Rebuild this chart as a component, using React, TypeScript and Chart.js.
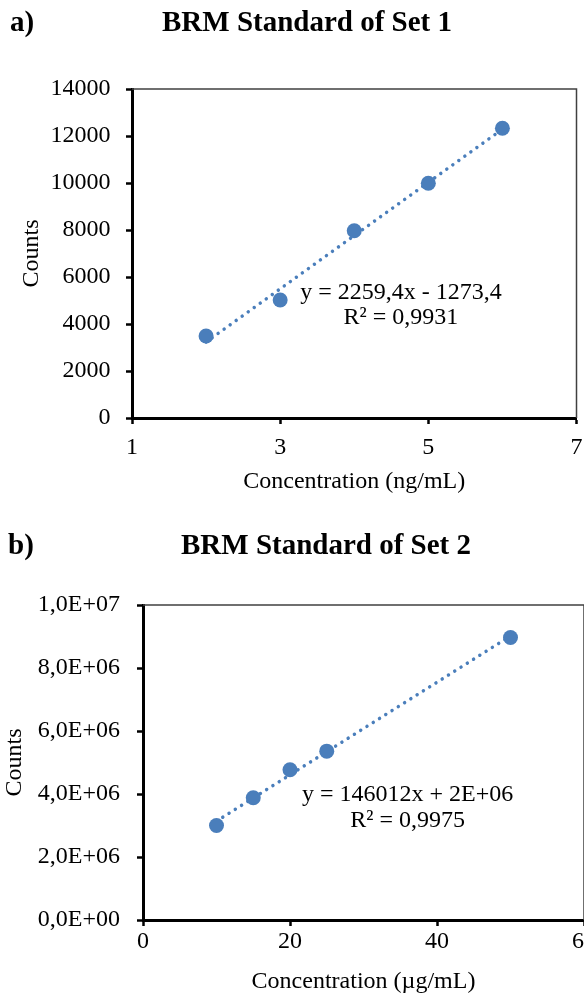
import React, { useEffect, useRef } from "react";
import { Chart, registerables } from "chart.js";

Chart.register(...registerables);

const FONT = '"Liberation Serif", "Times New Roman", Times, serif';
const BLUE = "#4A7EBB";

// ---- Data: chart a) BRM Standard of Set 1 ----
const concA = [2, 3, 4, 5, 6];
const countsA = [3490, 5020, 7970, 9990, 12330];
const xTicksA = [1, 3, 5, 7];
const yTicksA = [0, 2000, 4000, 6000, 8000, 10000, 12000, 14000];
const equationA = ["y = 2259,4x - 1273,4", "R² = 0,9931"];

// ---- Data: chart b) BRM Standard of Set 2 ----
const concB = [10, 15, 20, 25, 50];
const countsB = [3.0e6, 3.88e6, 4.77e6, 5.36e6, 8.97e6];
const xTicksB = [0, 20, 40, 60];
const yTicksB = [0, 2e6, 4e6, 6e6, 8e6, 1e7];
const equationB = ["y = 146012x + 2E+06", "R² = 0,9975"];

function fitLine(xs: number[], ys: number[]) {
  const n = xs.length;
  const mx = xs.reduce((a, b) => a + b, 0) / n;
  const my = ys.reduce((a, b) => a + b, 0) / n;
  let sxy = 0;
  let sxx = 0;
  for (let i = 0; i < n; i++) {
    sxy += (xs[i] - mx) * (ys[i] - my);
    sxx += (xs[i] - mx) * (xs[i] - mx);
  }
  const m = sxy / sxx;
  return { m, b: my - m * mx };
}

function fmtExcelSci(v: number) {
  if (v === 0) return "0,0E+00";
  const e = Math.floor(Math.log10(Math.abs(v)) + 1e-9);
  const m = v / Math.pow(10, e);
  return m.toFixed(1).replace(".", ",") + "E+" + String(e).padStart(2, "0");
}

type Spec = {
  tag: string;
  title: string;
  tagX: number;
  titleX: number;
  titleY: number;
  xs: number[];
  ys: number[];
  xTicks: number[];
  yTicks: number[];
  xLabel: string;
  yLabel: string;
  eq: string[];
  eqAt: { x: number; y: number };
  eqGap: number;
  yFmt: (v: number) => string;
  width: number;
  height: number;
  padTop: number;
  padRight: number;
  yAxisWidth: number;
  xAxisHeight: number;
  xTickPad: number;
  xTitlePadBottom: number;
  yTickPad: number;
  yTitlePadTop: number;
};

const specA: Spec = {
  tag: "a)",
  title: "BRM Standard of Set 1",
  tagX: 10,
  titleX: 307,
  titleY: 24,
  xs: concA,
  ys: countsA,
  xTicks: xTicksA,
  yTicks: yTicksA,
  xLabel: "Concentration (ng/mL)",
  yLabel: "Counts",
  eq: equationA,
  eqAt: { x: 4.63, y: 5320 },
  eqGap: 25,
  yFmt: (v) => String(v),
  width: 584,
  height: 500,
  padTop: 89,
  padRight: 7,
  yAxisWidth: 132,
  xAxisHeight: 82,
  xTickPad: 9.6,
  xTitlePadBottom: 3.6,
  yTickPad: 15.5,
  yTitlePadTop: 17.6,
};

const specB: Spec = {
  tag: "b)",
  title: "BRM Standard of Set 2",
  tagX: 8,
  titleX: 326,
  titleY: 47,
  xs: concB,
  ys: countsB,
  xTicks: xTicksB,
  yTicks: yTicksB,
  xLabel: "Concentration (µg/mL)",
  yLabel: "Counts",
  eq: equationB,
  eqAt: { x: 36, y: 3.97e6 },
  eqGap: 26,
  yFmt: fmtExcelSci,
  width: 600,
  height: 496,
  padTop: 105,
  padRight: 16,
  yAxisWidth: 143,
  xAxisHeight: 76,
  xTickPad: 1.6,
  xTitlePadBottom: 0,
  yTickPad: 17,
  yTitlePadTop: 0.6,
};

function makeDecor(spec: Spec) {
  return {
    id: "decor" + spec.tag,
    beforeDatasetsDraw(chart: any) {
      const { ctx, chartArea } = chart;
      const { top, right, bottom, left } = chartArea;
      ctx.save();
      ctx.strokeStyle = "#404040";
      ctx.lineWidth = 1.5;
      ctx.beginPath();
      ctx.moveTo(left, top);
      ctx.lineTo(right, top);
      ctx.lineTo(right, bottom);
      ctx.stroke();
      ctx.restore();
    },
    afterDraw(chart: any) {
      const { ctx, scales } = chart;
      ctx.save();
      ctx.fillStyle = "#000";
      ctx.textBaseline = "middle";
      ctx.font = `bold 29px ${FONT}`;
      ctx.textAlign = "left";
      ctx.fillText(spec.tag, spec.tagX, spec.titleY);
      ctx.textAlign = "center";
      ctx.fillText(spec.title, spec.titleX, spec.titleY);
      ctx.font = `24px ${FONT}`;
      const px = scales.x.getPixelForValue(spec.eqAt.x);
      const py = scales.y.getPixelForValue(spec.eqAt.y);
      spec.eq.forEach((line, i) => {
        ctx.fillText(line, px, py + i * spec.eqGap);
      });
      ctx.restore();
    },
  };
}

function buildConfig(spec: Spec): any {
  const { m, b } = fitLine(spec.xs, spec.ys);
  const x0 = spec.xs[0];
  const x1 = spec.xs[spec.xs.length - 1];
  const pts = spec.xs.map((x, i) => ({ x, y: spec.ys[i] }));
  const trend = [
    { x: x0, y: m * x0 + b },
    { x: x1, y: m * x1 + b },
  ];
  const tickFont = { family: FONT, size: 24 };
  return {
    type: "scatter",
    data: {
      datasets: [
        {
          data: pts,
          pointRadius: 7.5,
          pointHoverRadius: 7.5,
          pointBackgroundColor: BLUE,
          pointBorderWidth: 0,
          borderColor: BLUE,
          showLine: false,
        },
        {
          data: trend,
          showLine: true,
          pointRadius: 0,
          borderColor: BLUE,
          borderWidth: 3.5,
          borderDash: [0.01, 7.4],
          borderCapStyle: "round",
          fill: false,
        },
      ],
    },
    options: {
      responsive: false,
      maintainAspectRatio: false,
      animation: false,
      events: [],
      layout: {
        padding: { top: spec.padTop, right: spec.padRight, left: 0, bottom: 0 },
      },
      plugins: {
        legend: { display: false },
        tooltip: { enabled: false },
        title: { display: false },
      },
      scales: {
        x: {
          type: "linear",
          min: spec.xTicks[0],
          max: spec.xTicks[spec.xTicks.length - 1],
          afterBuildTicks: (s: any) => {
            s.ticks = spec.xTicks.map((v) => ({ value: v }));
          },
          afterFit: (s: any) => {
            s.height = spec.xAxisHeight;
            s.paddingLeft = 0;
            s.paddingRight = 0;
          },
          grid: {
            drawOnChartArea: false,
            drawTicks: true,
            tickLength: 6,
            tickWidth: 2.5,
            tickColor: "#000",
          },
          border: { display: true, color: "#000", width: 3 },
          ticks: {
            color: "#000",
            font: tickFont,
            padding: spec.xTickPad,
            maxRotation: 0,
            autoSkip: false,
            callback: (v: any) => String(v),
          },
          title: {
            display: true,
            text: spec.xLabel,
            color: "#000",
            font: tickFont,
            padding: { top: 0, bottom: spec.xTitlePadBottom },
          },
        },
        y: {
          type: "linear",
          min: spec.yTicks[0],
          max: spec.yTicks[spec.yTicks.length - 1],
          afterBuildTicks: (s: any) => {
            s.ticks = spec.yTicks.map((v) => ({ value: v }));
          },
          afterFit: (s: any) => {
            s.width = spec.yAxisWidth;
          },
          grid: {
            drawOnChartArea: false,
            drawTicks: true,
            tickLength: 6,
            tickWidth: 2.5,
            tickColor: "#000",
          },
          border: { display: true, color: "#000", width: 3 },
          ticks: {
            color: "#000",
            font: tickFont,
            padding: spec.yTickPad,
            autoSkip: false,
            callback: (v: any) => spec.yFmt(Number(v)),
          },
          title: {
            display: true,
            text: spec.yLabel,
            color: "#000",
            font: tickFont,
            padding: { top: spec.yTitlePadTop, bottom: 0 },
          },
        },
      },
    },
    plugins: [makeDecor(spec)],
  };
}

function ChartCanvas({ spec, top }: { spec: Spec; top: number }) {
  const ref = useRef<HTMLCanvasElement | null>(null);
  useEffect(() => {
    if (!ref.current) return;
    const chart = new Chart(ref.current, buildConfig(spec));
    return () => chart.destroy();
  }, [spec]);
  return (
    <canvas
      ref={ref}
      width={spec.width}
      height={spec.height}
      style={{
        position: "absolute",
        left: 0,
        top,
        width: spec.width,
        height: spec.height,
        display: "block",
      }}
    />
  );
}

export default function App() {
  return (
    <div
      style={{
        position: "fixed",
        left: 0,
        top: 0,
        width: 584,
        height: 996,
        overflow: "hidden",
        background: "#fff",
      }}
    >
      <ChartCanvas spec={specA} top={0} />
      <ChartCanvas spec={specB} top={500} />
    </div>
  );
}
